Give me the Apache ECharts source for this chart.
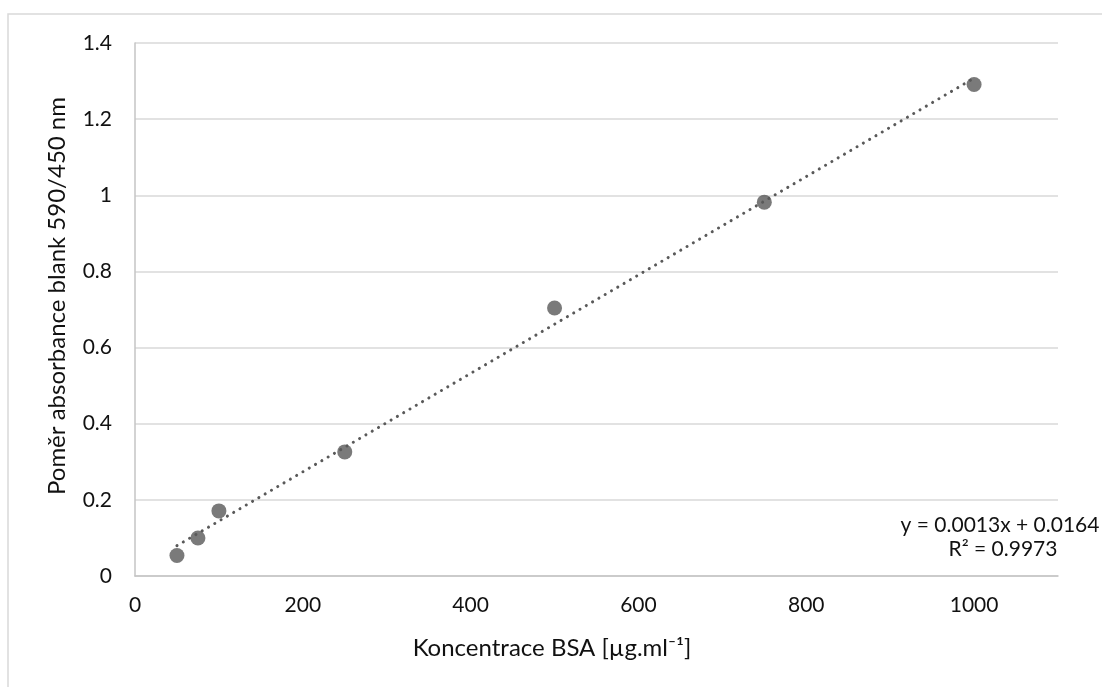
<!DOCTYPE html>
<html>
<head>
<meta charset="utf-8">
<script src="https://cdn.jsdelivr.net/npm/echarts@6/dist/echarts.min.js"></script>
<style>
html,body{margin:0;padding:0;background:#fff;}
#chart{width:1102px;height:687px;}
</style>
</head>
<body>
<div id="chart"></div>
<script>
// ---- data ----
var concentrations = [50, 75, 100, 250, 500, 750, 1000];
var absorbanceRatio = [0.054, 0.100, 0.171, 0.326, 0.704, 0.982, 1.291];
var xTicks = [0, 200, 400, 600, 800, 1000];
var yTicks = [0, 0.2, 0.4, 0.6, 0.8, 1, 1.2, 1.4];
var xTitle = 'Koncentrace BSA [µg.ml⁻¹]';
var yTitle = 'Poměr absorbance blank 590/450 nm';
var equationText = 'y = 0.0013x + 0.0164';
var r2Text = 'R² = 0.9973';

// least-squares trendline from the data
function linReg(xs, ys) {
  var n = xs.length, sx = 0, sy = 0, sxx = 0, sxy = 0;
  for (var i = 0; i < n; i++) { sx += xs[i]; sy += ys[i]; sxx += xs[i]*xs[i]; sxy += xs[i]*ys[i]; }
  var b = (n*sxy - sx*sy) / (n*sxx - sx*sx);
  var a = (sy - b*sx) / n;
  return {a: a, b: b};
}
var fit = linReg(concentrations, absorbanceRatio);
var xMinData = Math.min.apply(null, concentrations);
var xMaxData = Math.max.apply(null, concentrations);
var trend = [[xMinData, fit.a + fit.b*xMinData], [xMaxData, fit.a + fit.b*xMaxData]];

var points = concentrations.map(function (x, i) { return [x, absorbanceRatio[i]]; });

var FONT = 'Lato';
var chart = echarts.init(document.getElementById('chart'));
chart.setOption({
  animation: false,
  backgroundColor: '#fff',
  grid: {left: 135, right: 44, top: 43, bottom: 111, containLabel: false},
  xAxis: {
    type: 'value', min: xTicks[0], max: 1100, interval: 200,
    axisLine: {show: true, lineStyle: {color: '#c4c4c4', width: 1.5}},
    axisTick: {show: false},
    splitLine: {show: false},
    axisLabel: {
      color: '#111', fontFamily: FONT, fontSize: 21, margin: 19,
      showMaxLabel: false,
      formatter: function (v) { return xTicks.indexOf(v) >= 0 ? String(v) : ''; }
    }
  },
  yAxis: {
    type: 'value', min: yTicks[0], max: yTicks[yTicks.length-1], interval: 0.2,
    axisLine: {show: true, lineStyle: {color: '#c4c4c4', width: 1.5}},
    axisTick: {show: false},
    splitLine: {show: true, lineStyle: {color: '#d9d9d9', width: 1.5}},
    axisLabel: {
      color: '#111', fontFamily: FONT, fontSize: 21, margin: 23,
      formatter: function (v) { return String(Math.round(v*10)/10); }
    }
  },
  series: [
    {
      type: 'scatter', data: points, symbol: 'circle', symbolSize: 15,
      itemStyle: {color: '#595959'}, z: 2
    },
    {
      type: 'line', data: trend, symbol: 'none', z: 3,
      lineStyle: {color: '#595959', width: 3, type: [0.1, 7.2], cap: 'round'}
    }
  ],
  graphic: [
    {type: 'rect', shape: {x: 8, y: 14, width: 1300, height: 900},
     style: {fill: 'none', stroke: '#d9d9d9', lineWidth: 1.5}, silent: true},
    {type: 'text', x: 57, y: 296, rotation: Math.PI/2,
     style: {text: yTitle, fontFamily: FONT, fontSize: 24, fill: '#111', textAlign: 'center', textVerticalAlign: 'middle'}},
    {type: 'text', x: 552, y: 648,
     style: {text: xTitle, fontFamily: FONT, fontSize: 24, fill: '#111', textAlign: 'center', textVerticalAlign: 'middle'}},
    {type: 'text', x: 1000, y: 525,
     style: {text: equationText, fontFamily: FONT, fontSize: 21, fill: '#111', textAlign: 'center', textVerticalAlign: 'middle'}},
    {type: 'text', x: 1003, y: 549,
     style: {text: r2Text, fontFamily: FONT, fontSize: 21, fill: '#111', textAlign: 'center', textVerticalAlign: 'middle'}}
  ]
});
</script>
</body>
</html>
